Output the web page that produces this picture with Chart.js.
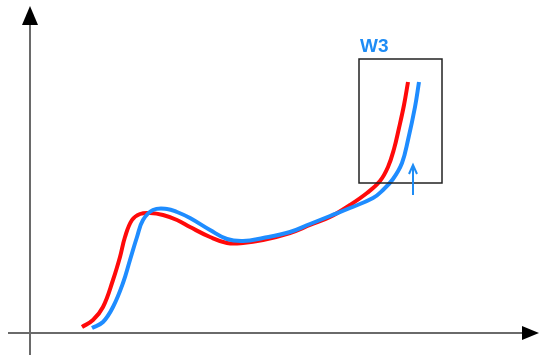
<!DOCTYPE html>
<html>
<head>
<meta charset="utf-8">
<script src="https://cdn.jsdelivr.net/npm/chart.js@4.4.1/dist/chart.umd.min.js"></script>
<style>
html,body{margin:0;padding:0;background:#fff;}
#wrap{width:539px;height:358px;}
</style>
</head>
<body>
<div id="wrap"><canvas id="c" width="539" height="358"></canvas></div>
<script>
// Series data (x, y), origin at the axes crossing
const redX  = [52, 63, 73, 83, 90, 95, 102, 110, 120, 133, 147, 160, 180, 197, 213, 233, 260, 280, 300, 320, 337, 350, 358, 364, 369, 374, 378];
const redY  = [6, 13, 26, 53, 76, 96, 113, 119, 120, 118, 113, 106, 96, 90, 90, 93, 100, 108, 116, 128, 140, 152, 166, 184, 205, 228, 251];
const blueX = [62, 73, 83, 93, 100, 107, 113, 123, 137, 147, 160, 180, 197, 213, 233, 260, 280, 300, 320, 343, 353, 363, 372, 378, 385, 389];
const blueY = [5, 11, 26, 50, 73, 96, 113, 123, 124, 121, 115, 103, 94, 92, 95, 101, 109, 117, 125, 135, 143, 154, 170, 193, 226, 251];

// Window annotation (W3) range and marker
const windowLabel = "W3";
const windowX = [329, 412];
const windowY = [150, 274];
const markerX = 383;
const markerY = [138, 168];

const toPts = (xs, ys) => xs.map((x, i) => ({x: x, y: ys[i]}));

const overlay = {
  id: 'overlay',
  afterDatasetsDraw(chart) {
    const ctx = chart.ctx, xs = chart.scales.x, ys = chart.scales.y;
    const px = v => xs.getPixelForValue(v), py = v => ys.getPixelForValue(v);
    ctx.save();
    // axes
    ctx.strokeStyle = '#6a6a6a';
    ctx.lineWidth = 2;
    ctx.beginPath();
    ctx.moveTo(px(0), py(-22)); ctx.lineTo(px(0), py(310));
    ctx.moveTo(px(-22), py(0)); ctx.lineTo(px(495), py(0));
    ctx.stroke();
    ctx.fillStyle = '#000';
    ctx.beginPath();
    ctx.moveTo(px(0), py(327)); ctx.lineTo(px(0) - 8, py(308)); ctx.lineTo(px(0) + 8, py(308)); ctx.closePath();
    ctx.fill();
    ctx.beginPath();
    ctx.moveTo(px(509), py(0)); ctx.lineTo(px(492), py(0) - 7); ctx.lineTo(px(492), py(0) + 7); ctx.closePath();
    ctx.fill();
    // window box
    ctx.strokeStyle = '#222';
    ctx.lineWidth = 1.5;
    ctx.strokeRect(px(windowX[0]), py(windowY[1]), px(windowX[1]) - px(windowX[0]), py(windowY[0]) - py(windowY[1]));
    // label
    ctx.fillStyle = '#1e8cf5';
    ctx.font = 'bold 19px "Liberation Sans", Arial, sans-serif';
    ctx.textBaseline = 'alphabetic';
    ctx.fillText(windowLabel, px(windowX[0]) + 1, py(windowY[1]) - 7);
    // marker arrow
    ctx.strokeStyle = '#1e8cf5';
    ctx.lineWidth = 2;
    ctx.beginPath();
    ctx.moveTo(px(markerX), py(markerY[0])); ctx.lineTo(px(markerX), py(markerY[1]));
    ctx.moveTo(px(markerX) - 4, py(markerY[1]) + 9); ctx.lineTo(px(markerX), py(markerY[1])); ctx.lineTo(px(markerX) + 4, py(markerY[1]) + 9);
    ctx.stroke();
    ctx.restore();
  }
};

new Chart(document.getElementById('c'), {
  type: 'line',
  data: {
    datasets: [
      {data: toPts(blueX, blueY), borderColor: '#1e8cff', borderWidth: 4, pointRadius: 0, tension: 0.4, fill: false},
      {data: toPts(redX, redY), borderColor: '#ff0a0a', borderWidth: 4, pointRadius: 0, tension: 0.4, fill: false}
    ]
  },
  options: {
    responsive: false,
    animation: false,
    layout: {padding: 0},
    plugins: {legend: {display: false}, tooltip: {enabled: false}},
    scales: {
      x: {type: 'linear', min: -30, max: 509, display: false},
      y: {type: 'linear', min: -25, max: 333, display: false}
    }
  },
  plugins: [overlay]
});
</script>
</body>
</html>
